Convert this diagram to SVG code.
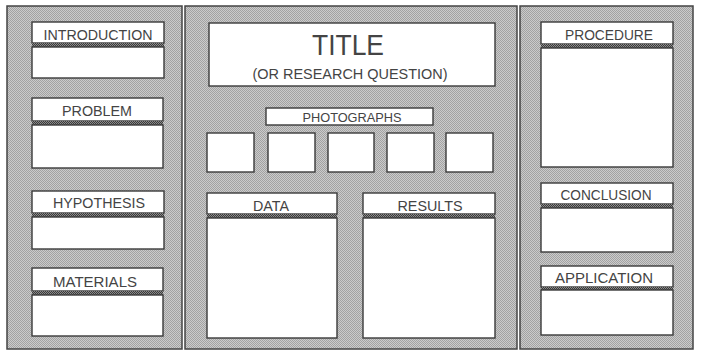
<svg xmlns="http://www.w3.org/2000/svg" width="702" height="352" viewBox="0 0 702 352">
<defs>
<pattern id="stip" width="2" height="2" patternUnits="userSpaceOnUse">
<rect width="2" height="2" fill="#cbcbcb"/>
<rect x="0" y="0" width="1" height="1" fill="#a2a2a2"/>
<rect x="1" y="1" width="1" height="1" fill="#a2a2a2"/>
</pattern>
<pattern id="dark" width="2" height="2" patternUnits="userSpaceOnUse">
<rect width="2" height="2" fill="#8a8a8a"/>
<rect x="0" y="0" width="1" height="1" fill="#3a3a3a"/>
<rect x="1" y="1" width="1" height="1" fill="#3a3a3a"/>
</pattern>
</defs>
<style>
.panel{fill:url(#stip);stroke:#444;stroke-width:1.5}
.box{fill:#fff;stroke:#3a3a3a;stroke-width:1.4}
.band{fill:url(#dark)}
.lbl{font-family:"Liberation Sans",Arial,sans-serif;font-size:15px;fill:#444;text-anchor:middle}
</style>
<rect width="702" height="352" fill="#fff"/>
<g id="panels">
<rect class="panel" x="7" y="6" width="175" height="343"/>
<rect class="panel" x="185" y="6" width="332" height="343"/>
<rect class="panel" x="520" y="6" width="173" height="343"/>
</g>
<g id="connectors"/>
<g id="introduction">
<rect class="box" x="32" y="22" width="132" height="21"/>
<rect class="band" x="32" y="43" width="132" height="4"/>
<rect class="box" x="32" y="47" width="132" height="31"/>
<text class="lbl" x="98" y="40" textLength="109" lengthAdjust="spacingAndGlyphs">INTRODUCTION</text>
</g>
<g id="problem">
<rect class="box" x="32" y="98" width="131" height="23"/>
<rect class="band" x="32" y="121" width="131" height="4"/>
<rect class="box" x="32" y="125" width="131" height="43"/>
<text class="lbl" x="97" y="116" textLength="70" lengthAdjust="spacingAndGlyphs">PROBLEM</text>
</g>
<g id="hypothesis">
<rect class="box" x="32" y="191" width="132" height="22"/>
<rect class="band" x="32" y="213" width="132" height="4"/>
<rect class="box" x="32" y="217" width="132" height="32"/>
<text class="lbl" x="99" y="208" textLength="92" lengthAdjust="spacingAndGlyphs">HYPOTHESIS</text>
</g>
<g id="materials">
<rect class="box" x="32" y="268" width="131" height="23"/>
<rect class="band" x="32" y="291" width="131" height="4"/>
<rect class="box" x="32" y="295" width="131" height="41"/>
<text class="lbl" x="95" y="287" textLength="84" lengthAdjust="spacingAndGlyphs">MATERIALS</text>
</g>
<g id="title">
<rect class="box" x="209" y="23" width="286" height="63"/>
<text class="lbl" x="348" y="55" style="font-size:29px" textLength="72" lengthAdjust="spacingAndGlyphs">TITLE</text>
<text class="lbl" x="350" y="79" textLength="195" lengthAdjust="spacingAndGlyphs">(OR RESEARCH QUESTION)</text>
</g>
<g id="photographs">
<rect class="box" x="266" y="108" width="167" height="17"/>
<text class="lbl" x="352" y="122" style="font-size:12px" textLength="99" lengthAdjust="spacingAndGlyphs">PHOTOGRAPHS</text>
</g>
<g id="photo1"><rect class="box" x="207" y="133" width="47" height="39"/></g>
<g id="photo2"><rect class="box" x="268" y="133" width="47" height="39"/></g>
<g id="photo3"><rect class="box" x="328" y="133" width="46" height="39"/></g>
<g id="photo4"><rect class="box" x="387" y="133" width="47" height="39"/></g>
<g id="photo5"><rect class="box" x="446" y="133" width="47" height="39"/></g>
<g id="data">
<rect class="box" x="207" y="193" width="130" height="21"/>
<rect class="band" x="207" y="214" width="130" height="4"/>
<rect class="box" x="207" y="218" width="130" height="120"/>
<text class="lbl" x="271" y="211" textLength="36" lengthAdjust="spacingAndGlyphs">DATA</text>
</g>
<g id="results">
<rect class="box" x="363" y="193" width="132" height="21"/>
<rect class="band" x="363" y="214" width="132" height="4"/>
<rect class="box" x="363" y="218" width="132" height="120"/>
<text class="lbl" x="430" y="211" textLength="65" lengthAdjust="spacingAndGlyphs">RESULTS</text>
</g>
<g id="procedure">
<rect class="box" x="541" y="22" width="132" height="22"/>
<rect class="band" x="541" y="44" width="132" height="4"/>
<rect class="box" x="541" y="48" width="132" height="119"/>
<text class="lbl" x="609" y="40" textLength="88" lengthAdjust="spacingAndGlyphs">PROCEDURE</text>
</g>
<g id="conclusion">
<rect class="box" x="541" y="183" width="132" height="21"/>
<rect class="band" x="541" y="204" width="132" height="4"/>
<rect class="box" x="541" y="208" width="132" height="44"/>
<text class="lbl" x="606" y="200" textLength="91" lengthAdjust="spacingAndGlyphs">CONCLUSION</text>
</g>
<g id="application">
<rect class="box" x="541" y="266" width="132" height="21"/>
<rect class="band" x="541" y="287" width="132" height="3"/>
<rect class="box" x="541" y="290" width="132" height="45"/>
<text class="lbl" x="604" y="283" textLength="98" lengthAdjust="spacingAndGlyphs">APPLICATION</text>
</g>
</svg>
